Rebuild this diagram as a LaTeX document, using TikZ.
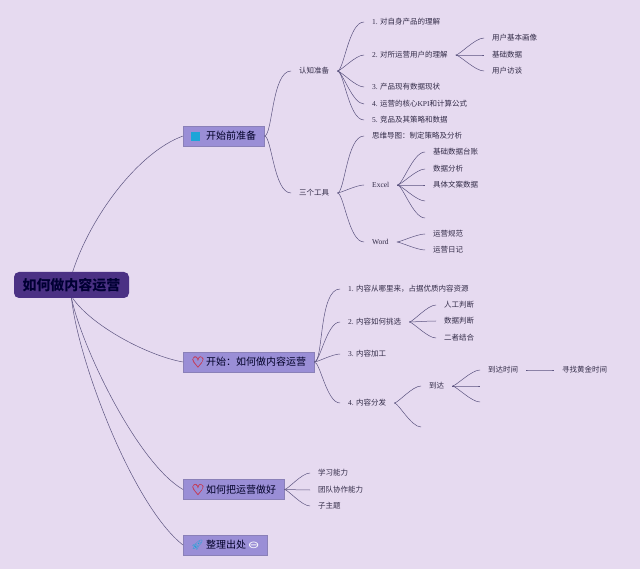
\documentclass[tikz,border=0pt]{standalone}
\usepackage{fontspec}
\setmainfont{Noto Sans CJK SC}
\newfontfamily\latinfont{Liberation Serif}
\newfontfamily\symfont{DejaVu Sans}
\newfontfamily\heartfont[FakeBold=1.5]{DejaVu Sans}
\newfontfamily\emojifont{Noto Emoji}
\usetikzlibrary{shapes,arrows,positioning}
\newcommand{\lat}[1]{{\latinfont #1}}
\newcommand{\iconbox}[1]{\makebox[15pt][l]{#1}}
\newcommand{\heartmark}{\iconbox{\raisebox{-1.5pt}{\textcolor{heartcol}{\heartfont\fontsize{15}{15}\selectfont ♡}}}}
\definecolor{paper}{HTML}{E6DAF0}
\definecolor{boxfill}{HTML}{9A8ED6}
\definecolor{boxline}{HTML}{8A80B8}
\definecolor{rootfill}{HTML}{4B3184}
\definecolor{linecol}{HTML}{5C5480}
\definecolor{inkcol}{HTML}{332C48}
\definecolor{heartcol}{HTML}{C2405E}
\definecolor{iconblue}{HTML}{1CA5D8}
\tikzset{
	item/.style={anchor=west, inner xsep=8pt, inner ysep=1pt, font=\fontsize{7.5}{9}\selectfont, text=inkcol},
	branch/.style={draw=boxline, fill=boxfill, anchor=west, minimum height=20pt, inner xsep=8pt, inner ysep=0pt, font=\fontsize{10}{12}\selectfont, text=black!85!blue},
	rootbox/.style={fill=rootfill, rounded corners=5pt, minimum width=115pt, minimum height=26pt, inner sep=0pt, font=\fontsize{14}{16}\bfseries\selectfont, text=black!80!blue},
	link/.style={draw=linecol, line width=0.5pt, out=0, in=180, out looseness=0.3, in looseness=0.7}
}
\begin{document}
\begin{tikzpicture}[x=1pt,y=-1pt]
	\fill [paper] (0,0) rectangle (640,569);
	\useasboundingbox (0,0) rectangle (640,569);

	\node [rootbox] (root) at (71.5,285) {如何做内容运营};

	% first branch
	\node [branch] (prep) at (183,136) {\iconbox{\textcolor{iconblue}{\rule[-1pt]{9pt}{9pt}}}开始前准备};
	\node [item] (aware) at (291,71) {认知准备};
	\node [item] (tools) at (291,193) {三个工具};
	\node [item] (a1) at (364,22) {\lat{1.} 对自身产品的理解};
	\node [item] (a2) at (364,55) {\lat{2.} 对所运营用户的理解};
	\node [item] (a3) at (364,87) {\lat{3.} 产品现有数据现状};
	\node [item] (a4) at (364,104) {\lat{4.} 运营的核心\lat{KPI}和计算公式};
	\node [item] (a5) at (364,120) {\lat{5.} 竞品及其策略和数据};
	\node [item] (u1) at (484,38) {用户基本画像};
	\node [item] (u2) at (484,55) {基础数据};
	\node [item] (u3) at (484,71) {用户访谈};
	\node [item] (t1) at (364,136) {思维导图：制定策略及分析};
	\node [item] (excel) at (364,185) {\lat{Excel}};
	\node [item] (word) at (364,242) {\lat{Word}};
	\node [item] (e1) at (425,152) {基础数据台账};
	\node [item] (e2) at (425,169) {数据分析};
	\node [item] (e3) at (425,185) {具体文案数据};
	\coordinate (e4) at (425,201);
	\coordinate (e5) at (425,218);
	\node [item] (w1) at (425,234) {运营规范};
	\node [item] (w2) at (425,250) {运营日记};

	% second branch
	\node [branch] (start) at (183,362) {\heartmark 开始：如何做内容运营};
	\node [item] (c1) at (340,289) {\lat{1.} 内容从哪里来，占据优质内容资源};
	\node [item] (c2) at (340,322) {\lat{2.} 内容如何挑选};
	\node [item] (c3) at (340,354) {\lat{3.} 内容加工};
	\node [item] (c4) at (340,403) {\lat{4.} 内容分发};
	\node [item] (s1) at (436,305) {人工判断};
	\node [item] (s2) at (436,321) {数据判断};
	\node [item] (s3) at (436,338) {二者结合};
	\node [item] (reach) at (421,386) {到达};
	\coordinate (blank) at (421,427);
	\node [item] (time) at (480,370) {到达时间};
	\coordinate (r2) at (480,386);
	\coordinate (r3) at (480,402);
	\node [item] (gold) at (554,370) {寻找黄金时间};

	% third and fourth branch
	\node [branch] (better) at (183,489.5) {\heartmark 如何把运营做好};
	\node [item] (b1) at (310,473) {学习能力};
	\node [item] (b2) at (310,490) {团队协作能力};
	\node [item] (b3) at (310,506) {子主题};
	\node [branch] (source) at (183,545) {\iconbox{\textcolor{iconblue}{\emojifont\fontsize{10}{10}\selectfont 🚀}}整理出处\,\textcolor{white}{\symfont\scalebox{1.4}[1]{⊖}}};

	\path [link]
	(root.85) edge [out=72, in=200, out looseness=0.85, in looseness=0.7] (prep.west)
	(root.-85) edge [out=-55, in=170, out looseness=0.7, in looseness=0.7] (start.west)
	(root.-90) edge [out=-78, in=150, out looseness=0.6, in looseness=0.6] (better.west)
	(root.-90) edge [out=-84, in=142, out looseness=0.6, in looseness=0.6] (source.west)
	(prep.east) edge (aware.west)
	(prep.east) edge (tools.west)
	(aware.east) edge (a1.west)
	(aware.east) edge (a2.west)
	(aware.east) edge (a3.west)
	(aware.east) edge (a4.west)
	(aware.east) edge (a5.west)
	(a2.east) edge (u1.west)
	(a2.east) edge (u2.west)
	(a2.east) edge (u3.west)
	(tools.east) edge (t1.west)
	(tools.east) edge (excel.west)
	(tools.east) edge (word.west)
	(excel.east) edge (e1.west)
	(excel.east) edge (e2.west)
	(excel.east) edge (e3.west)
	(excel.east) edge (e4)
	(excel.east) edge (e5)
	(word.east) edge (w1.west)
	(word.east) edge (w2.west)
	(start.east) edge (c1.west)
	(start.east) edge (c2.west)
	(start.east) edge (c3.west)
	(start.east) edge (c4.west)
	(c2.east) edge (s1.west)
	(c2.east) edge (s2.west)
	(c2.east) edge (s3.west)
	(c4.east) edge (reach.west)
	(c4.east) edge (blank)
	(reach.east) edge (time.west)
	(reach.east) edge (r2)
	(reach.east) edge (r3)
	(time.east) edge (gold.west)
	(better.east) edge (b1.west)
	(better.east) edge (b2.west)
	(better.east) edge (b3.west);
\end{tikzpicture}
\end{document}
